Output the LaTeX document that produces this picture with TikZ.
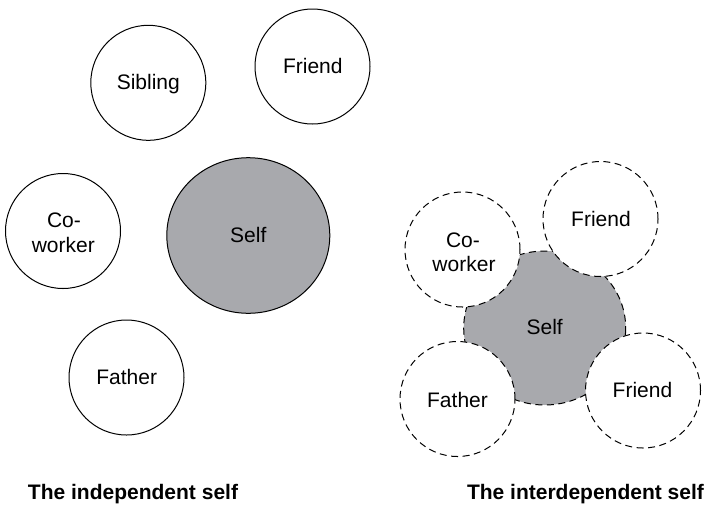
\documentclass[tikz,border=0pt]{standalone}
\usepackage{fontspec}
\setmainfont{Liberation Sans}
\usetikzlibrary{shapes.geometric}
\definecolor{selfgray}{RGB}{168,169,173}
\begin{document}
\begin{tikzpicture}[x=1pt,y=-1pt,
  every node/.style={font=\fontsize{21}{25}\selectfont},
  other/.style={circle,draw,line width=1pt,fill=white,minimum size=115pt,inner sep=0pt,outer sep=0pt},
  dashother/.style={other,dash pattern=on 7pt off 4.5pt},
  lbl/.style={anchor=base,inner sep=0pt},
  title/.style={anchor=base,inner sep=0pt,font=\fontsize{21}{25}\selectfont\bfseries}]
\useasboundingbox (0,0) rectangle (707,504);

% --- independent self: separate circles ---
\node[other] (sib) at (148.3,82.8) {};
\node[other] (fri) at (312.5,66.5) {};
\node[other] (cow) at (63,231) {};
\node[other] (fat) at (126.5,377.5) {};
\node[ellipse,draw,line width=1pt,fill=selfgray,minimum width=163pt,minimum height=155.6pt,inner sep=0pt] (slf) at (248.3,235.5) {};

\node[lbl] (sibt) at (148.3,89) {Sibling};
\node[lbl] (frit) at (312.8,73) {Friend};
\node[lbl] (cowt1) at (64,227) {Co-};
\node[lbl] (cowt2) at (63.3,252) {worker};
\node[lbl] (slft) at (248.3,242) {Self};
\node[lbl] (fatt) at (126.7,384) {Father};

% --- interdependent self: overlapping self with dashed boundaries ---
\fill[selfgray] (544.7,328) ellipse [x radius=81, y radius=77];
\draw[line width=1pt,dash pattern=on 7pt off 4.5pt] (544.7,328) ellipse [x radius=81, y radius=77];
\node[dashother] (cow2) at (462.5,249.5) {};
\node[dashother] (fri2) at (600.5,219) {};
\node[dashother] (fat2) at (457.5,399) {};
\node[dashother] (fri3) at (643,390.5) {};

\node[lbl] (cow2t1) at (463,247) {Co-};
\node[lbl] (cow2t2) at (464,271) {worker};
\node[lbl] (fri2t) at (601,226) {Friend};
\node[lbl] (slf2t) at (544.7,334) {Self};
\node[lbl] (fat2t) at (457.5,407) {Father};
\node[lbl] (fri3t) at (642.5,397) {Friend};

% --- captions ---
\node[title] (cap1) at (133,499) {The independent self};
\node[title] (cap2) at (585.5,499) {The interdependent self};
\end{tikzpicture}
\end{document}
